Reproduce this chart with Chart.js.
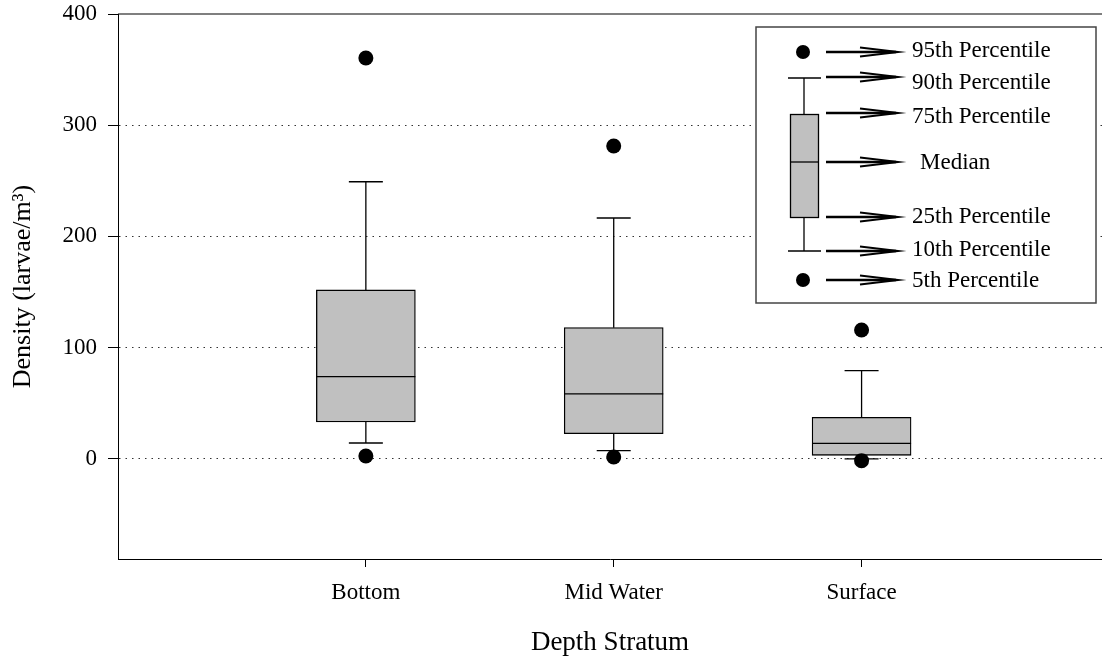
<!DOCTYPE html>
<html>
<head>
<meta charset="utf-8">
<script src="https://cdn.jsdelivr.net/npm/chart.js@4"></script>
<style>
html,body{margin:0;padding:0;background:#fff;overflow:hidden}
canvas{display:block}
</style>
</head>
<body>
<canvas id="c" width="1102" height="662" style="width:1102px;height:662px"></canvas>
<script>
// ---- data ----
const categories = ['Bottom', 'Mid Water', 'Surface'];
const p5     = [2.6, 1.7, -1.6];
const p10    = [14.3, 7.4, 0];
const q1     = [33.2, 22.7, 3.2];
const median = [73.9, 58.4, 14];
const q3     = [151.9, 118, 37.4];
const p90    = [249.2, 216.6, 79.3];
const p95    = [360.4, 281.3, 115.9];
const yTicks = [0, 100, 200, 300, 400];
const legendLabels = ['95th Percentile', '90th Percentile', '75th Percentile', 'Median',
                      '25th Percentile', '10th Percentile', '5th Percentile'];

const FONT = "'Liberation Serif', 'Times New Roman', serif";

const outlierData = categories.flatMap((c, i) => [{x: i + 1, y: p95[i]}, {x: i + 1, y: p5[i]}]);
const boxData = categories.map((c, i) => ({x: i + 1, y: [q1[i], q3[i]]}));

function line(ctx, x1, y1, x2, y2) {
  ctx.beginPath(); ctx.moveTo(x1, y1); ctx.lineTo(x2, y2); ctx.stroke();
}

const boxParts = {
  id: 'boxParts',
  afterDatasetDraw(chart, args) {
    if (args.index !== 1) return;
    const {ctx} = chart;
    const xs = chart.scales.x, ys = chart.scales.y;
    const bars = chart.getDatasetMeta(1).data;
    ctx.save();
    ctx.strokeStyle = '#000';
    ctx.lineWidth = 1.3;
    categories.forEach((c, i) => {
      const cx = xs.getPixelForValue(i + 1);
      const half = bars[i].width / 2;
      const cap = 17;
      line(ctx, cx, ys.getPixelForValue(q3[i]), cx, ys.getPixelForValue(p90[i]));
      line(ctx, cx - cap, ys.getPixelForValue(p90[i]), cx + cap, ys.getPixelForValue(p90[i]));
      line(ctx, cx, ys.getPixelForValue(q1[i]), cx, ys.getPixelForValue(p10[i]));
      line(ctx, cx - cap, ys.getPixelForValue(p10[i]), cx + cap, ys.getPixelForValue(p10[i]));
      line(ctx, cx - half, ys.getPixelForValue(median[i]), cx + half, ys.getPixelForValue(median[i]));
    });
    ctx.restore();
  },
  afterDraw(chart) {
    const {ctx, chartArea} = chart;
    ctx.save();
    // top frame line
    ctx.strokeStyle = '#000';
    ctx.lineWidth = 1.2;
    line(ctx, chartArea.left, chartArea.top, chartArea.right, chartArea.top);

    // legend box
    ctx.fillStyle = '#fff';
    ctx.fillRect(756, 27, 340, 276);
    ctx.strokeStyle = '#444';
    ctx.lineWidth = 1.5;
    ctx.strokeRect(756, 27, 340, 276);

    // mini box plot
    ctx.strokeStyle = '#000';
    ctx.lineWidth = 1.3;
    ctx.fillStyle = '#000';
    ctx.beginPath(); ctx.arc(803, 52, 7, 0, Math.PI * 2); ctx.fill();
    ctx.beginPath(); ctx.arc(803, 280, 7, 0, Math.PI * 2); ctx.fill();
    line(ctx, 788, 78, 821, 78);
    line(ctx, 804, 78, 804, 114);
    line(ctx, 804, 217, 804, 251);
    line(ctx, 788, 251, 821, 251);
    ctx.fillStyle = '#c0c0c0';
    ctx.fillRect(790, 114, 28, 103);
    ctx.strokeRect(790.5, 114.5, 28, 103);
    line(ctx, 790, 162, 818, 162);

    // arrows
    const arrowY = [52, 77, 113, 162, 217, 251, 280];
    ctx.strokeStyle = '#000';
    arrowY.forEach(y => {
      ctx.lineWidth = 2.5;
      line(ctx, 826, y, 896, y);
      ctx.lineWidth = 2;
      ctx.beginPath();
      ctx.moveTo(860, y - 4.5); ctx.lineTo(898, y); ctx.lineTo(860, y + 4.5);
      ctx.stroke();
    });

    // texts
    const textY = [51, 83, 116.5, 162.5, 217, 250, 280.5];
    ctx.fillStyle = '#000';
    ctx.font = '23px ' + FONT;
    ctx.textAlign = 'left';
    ctx.textBaseline = 'middle';
    legendLabels.forEach((t, i) => {
      ctx.fillText(t, t === 'Median' ? 920 : 912, textY[i]);
    });
    ctx.restore();
  }
};

new Chart(document.getElementById('c'), {
  type: 'bar',
  data: {
    datasets: [
      {
        type: 'scatter',
        data: outlierData,
        pointRadius: 7.5,
        pointHoverRadius: 7.5,
        pointBackgroundColor: '#000',
        pointBorderColor: '#000',
        pointBorderWidth: 0,
        showLine: false
      },
      {
        type: 'bar',
        data: boxData,
        backgroundColor: '#c0c0c0',
        borderColor: '#000',
        borderWidth: 1.3,
        borderSkipped: false,
        barThickness: 99
      }
    ]
  },
  options: {
    responsive: false,
    animation: false,
    events: [],
    layout: {autoPadding: false, padding: {top: 14, right: 0, bottom: 0, left: 0}},
    plugins: {legend: {display: false}, tooltip: {enabled: false}},
    scales: {
      x: {
        type: 'linear',
        min: 0,
        max: 3.97,
        offset: false,
        afterBuildTicks: s => { s.ticks = categories.map((c, i) => ({value: i + 1})); },
        afterFit: s => { s.height = 103; s.paddingLeft = 0; s.paddingRight = 0; },
        ticks: {
          callback: v => categories[v - 1],
          font: {family: FONT, size: 23},
          color: '#000',
          padding: 12,
          maxRotation: 0,
          autoSkip: false
        },
        grid: {
          offset: false,
          drawOnChartArea: false,
          drawTicks: true,
          tickLength: 8,
          tickColor: '#000',
          tickWidth: 1,
          color: '#000'
        },
        border: {display: true, color: '#000', width: 1},
        title: {
          display: true,
          text: 'Depth Stratum',
          font: {family: FONT, size: 27},
          color: '#000',
          padding: {top: 0, bottom: 3}
        }
      },
      y: {
        type: 'linear',
        min: -90,
        max: 400,
        afterBuildTicks: s => { s.ticks = yTicks.map(v => ({value: v})); },
        afterFit: s => { s.width = 118; s.paddingTop = 0; s.paddingBottom = 0; },
        ticks: {
          font: {family: FONT, size: 23},
          color: '#000',
          padding: 11
        },
        grid: {
          drawOnChartArea: true,
          drawTicks: true,
          tickLength: 10,
          tickColor: '#000',
          tickWidth: 1,
          tickBorderDash: [],
          color: ctx => (ctx.tick && ctx.tick.value === 400) ? 'rgba(0,0,0,0)' : '#333',
          lineWidth: 1
        },
        border: {display: true, color: '#000', width: 1, dash: [1.5, 5]},
        title: {
          display: true,
          text: 'Density (larvae/m³)',
          font: {family: FONT, size: 26},
          color: '#000',
          padding: {top: 8, bottom: 0}
        }
      }
    }
  },
  plugins: [boxParts]
});
</script>
</body>
</html>
